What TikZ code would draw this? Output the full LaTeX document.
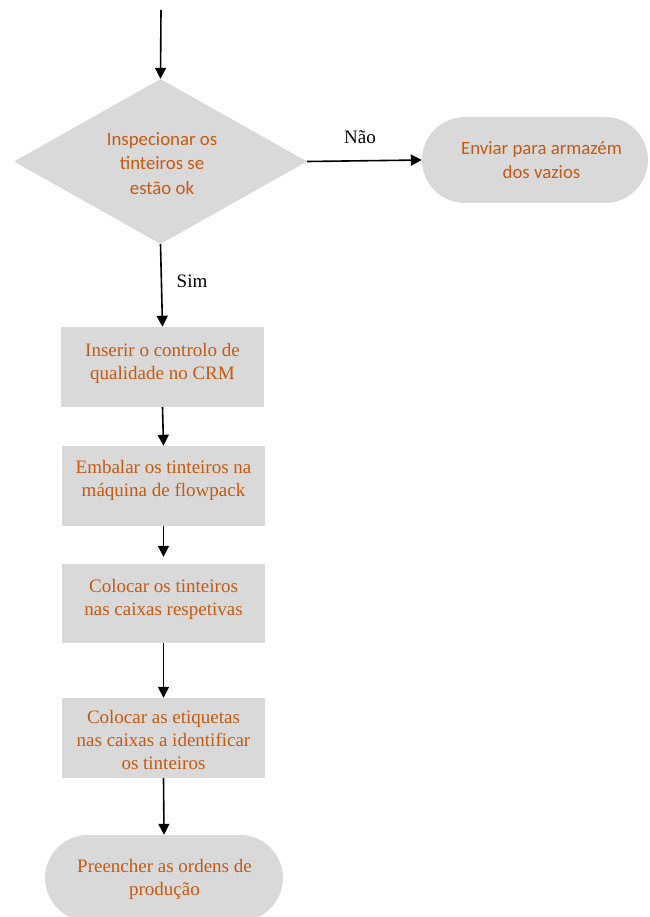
\documentclass[tikz,border=0pt]{standalone}
\usepackage{fontspec}
\setmainfont{Liberation Serif}
\newfontfamily\calfont{Carlito}
\usetikzlibrary{shapes.geometric,arrows.meta}
\definecolor{boxgray}{HTML}{D9D9D9}
\definecolor{txtorange}{HTML}{C55A11}
\tikzset{
  arr/.style={line width=1.6pt,-{Triangle[length=11pt,width=11pt]}},
  stepbox/.style={rectangle,fill=boxgray,minimum width=203pt,minimum height=80pt,inner sep=0pt},
  terminal/.style={rectangle,rounded corners=43pt,fill=boxgray,inner sep=0pt,minimum height=86pt},
  decision/.style={diamond,fill=boxgray,inner sep=0pt,shape aspect=1.78,minimum width=293pt,minimum height=165pt},
  seriftxt/.style={text=txtorange,align=center,font=\fontsize{19}{23}\selectfont,inner sep=0pt,anchor=base},
  caltxt/.style={text=txtorange,align=center,inner sep=0pt,anchor=base},
  lbl/.style={font=\fontsize{19}{23}\selectfont,inner sep=0pt,anchor=base}
}
\begin{document}
\begin{tikzpicture}[x=1pt,y=-1pt]
\useasboundingbox (0,0) rectangle (649,917);
\clip (0,0) rectangle (649,917);

% shapes
\node[decision] (dec) at (160.5,161.5) {};
\node[terminal,minimum width=226pt] (store) at (535,160) {};
\node[stepbox] (b1) at (162.5,367) {};
\node[stepbox] (b2) at (163.5,486) {};
\node[stepbox,minimum height=79pt] (b3) at (163.5,603.5) {};
\node[stepbox] (b4) at (163.5,738) {};
\node[terminal,minimum width=238pt] (fill) at (164,878) {};

% texts (anchored at the baseline of the last line)
\node[caltxt,font=\calfont\fontsize{18.8}{24.5}\selectfont] (tdec) at (162,194.5) {Inspecionar os\\tinteiros se\\estão ok};
\node[caltxt,font=\calfont\fontsize{18.8}{23.5}\selectfont] (tstore) at (541.5,178.5) {Enviar para armazém\\dos vazios};
\node[seriftxt] (t1) at (162.5,379) {Inserir o controlo de\\qualidade no CRM};
\node[seriftxt] (t2) at (163.5,496) {Embalar os tinteiros na\\máquina de flowpack};
\node[seriftxt] (t3) at (163.5,615) {Colocar os tinteiros\\nas caixas respetivas};
\node[seriftxt] (t4) at (163.5,769) {Colocar as etiquetas\\nas caixas a identificar\\os tinteiros};
\node[seriftxt] (t5) at (164.5,895) {Preencher as ordens de\\produção};

% connectors
\coordinate (start) at (161,10);
\draw[arr] (start) -- (dec.north);
\draw[arr] (dec.east) -- (store.west);
\draw[arr] (dec.south) -- (b1.north);
\draw[arr] (b1.south) -- (b2.north);
\draw[arr,shorten >=7pt] (b2.south) -- (b3.north);
\draw[arr] (b3.south) -- (b4.north);
\draw[arr] (b4.south) -- (fill.north);

% branch labels
\node[lbl] (no) at (360,144) {Não};
\node[lbl] (yes) at (192,287) {Sim};
\end{tikzpicture}
\end{document}
